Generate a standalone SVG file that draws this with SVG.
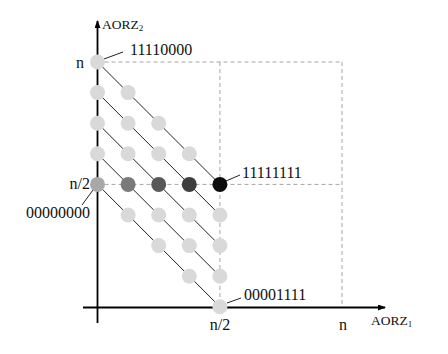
<svg xmlns="http://www.w3.org/2000/svg" width="448" height="354" viewBox="0 0 448 354">
<style>
text{font-family:"Liberation Serif","Times New Roman",serif;fill:#111;font-size:16px}
.ax{stroke:#000;stroke-width:1.8;fill:none}
.dl{stroke:#222;stroke-width:1;fill:none}
.ds{stroke:#a6a6a6;stroke-width:1;stroke-dasharray:4 3;fill:none}
.c{fill:#d9d9d9}
.lab{font-size:13.5px}
.sub{font-size:9px}
</style>
<defs>
<marker id="ah" markerWidth="8" markerHeight="6" refX="7" refY="3" orient="auto" markerUnits="userSpaceOnUse">
<path d="M0,0 L8,3 L0,6 Z" fill="#000"/>
</marker>
</defs>
<rect width="448" height="354" fill="#fff"/>
<g id="grid">
<line class="ds" x1="97.5" y1="62" x2="342" y2="62"/>
<line class="ds" x1="97.5" y1="184.4" x2="342" y2="184.4"/>
<line class="ds" x1="219.9" y1="62" x2="219.9" y2="306.8"/>
<line class="ds" x1="342" y1="62" x2="342" y2="307"/>
</g>
<g id="axes">
<line class="ax" x1="97.5" y1="323" x2="97.5" y2="21" marker-end="url(#ah)"/>
<line class="ax" x1="83" y1="307.5" x2="385" y2="307.5" marker-end="url(#ah)"/>
<text class="lab" x="102" y="29">AORZ<tspan class="sub" dy="2">2</tspan></text>
<text class="lab" x="371" y="325">AORZ<tspan class="sub" dy="2">1</tspan></text>
<text x="84" y="68" text-anchor="end">n</text>
<text x="90" y="189" text-anchor="end">n/2</text>
<text x="220" y="330" text-anchor="middle">n/2</text>
<text x="343" y="330" text-anchor="middle">n</text>
</g>
<g id="connectors">
<line class="dl" x1="97.5" y1="62" x2="219.9" y2="184.4"/>
<line class="dl" x1="97.5" y1="92.6" x2="219.9" y2="215"/>
<line class="dl" x1="97.5" y1="123.2" x2="219.9" y2="245.6"/>
<line class="dl" x1="97.5" y1="153.8" x2="219.9" y2="276.2"/>
<line class="dl" x1="97.5" y1="184.4" x2="219.9" y2="306.8"/>
<line class="dl" x1="104" y1="59" x2="123" y2="52"/>
<line class="dl" x1="226" y1="181" x2="240" y2="175"/>
<line class="dl" x1="93" y1="190" x2="82" y2="205"/>
<line class="dl" x1="227" y1="303" x2="241" y2="298"/>
</g>
<g id="n_r0c0"><circle class="c" cx="97.5" cy="62" r="7.5"/><text x="130" y="55">11110000</text></g>
<g id="n_r1c0"><circle class="c" cx="97.5" cy="92.6" r="7.5"/></g>
<g id="n_r1c1"><circle class="c" cx="128.1" cy="92.6" r="7.5"/></g>
<g id="n_r2c0"><circle class="c" cx="97.5" cy="123.2" r="7.5"/></g>
<g id="n_r2c1"><circle class="c" cx="128.1" cy="123.2" r="7.5"/></g>
<g id="n_r2c2"><circle class="c" cx="158.7" cy="123.2" r="7.5"/></g>
<g id="n_r3c0"><circle class="c" cx="97.5" cy="153.8" r="7.5"/></g>
<g id="n_r3c1"><circle class="c" cx="128.1" cy="153.8" r="7.5"/></g>
<g id="n_r3c2"><circle class="c" cx="158.7" cy="153.8" r="7.5"/></g>
<g id="n_r3c3"><circle class="c" cx="189.3" cy="153.8" r="7.5"/></g>
<g id="n_r4c0"><circle cx="97.5" cy="184.4" r="7.5" fill="#a8a8a8"/><text x="26" y="218">00000000</text></g>
<g id="n_r4c1"><circle cx="128.1" cy="184.4" r="7.5" fill="#7a7a7a"/></g>
<g id="n_r4c2"><circle cx="158.7" cy="184.4" r="7.5" fill="#585858"/></g>
<g id="n_r4c3"><circle cx="189.3" cy="184.4" r="7.5" fill="#3e3e3e"/></g>
<g id="n_r4c4"><circle cx="219.9" cy="184.4" r="7.5" fill="#0d0d0d"/><text x="242" y="178">11111111</text></g>
<g id="n_r5c1"><circle class="c" cx="128.1" cy="215" r="7.5"/></g>
<g id="n_r5c2"><circle class="c" cx="158.7" cy="215" r="7.5"/></g>
<g id="n_r5c3"><circle class="c" cx="189.3" cy="215" r="7.5"/></g>
<g id="n_r5c4"><circle class="c" cx="219.9" cy="215" r="7.5"/></g>
<g id="n_r6c2"><circle class="c" cx="158.7" cy="245.6" r="7.5"/></g>
<g id="n_r6c3"><circle class="c" cx="189.3" cy="245.6" r="7.5"/></g>
<g id="n_r6c4"><circle class="c" cx="219.9" cy="245.6" r="7.5"/></g>
<g id="n_r7c3"><circle class="c" cx="189.3" cy="276.2" r="7.5"/></g>
<g id="n_r7c4"><circle class="c" cx="219.9" cy="276.2" r="7.5"/></g>
<g id="n_r8c4"><circle class="c" cx="219.9" cy="306.8" r="7.5"/><text x="244" y="300">00001111</text></g>
</svg>
